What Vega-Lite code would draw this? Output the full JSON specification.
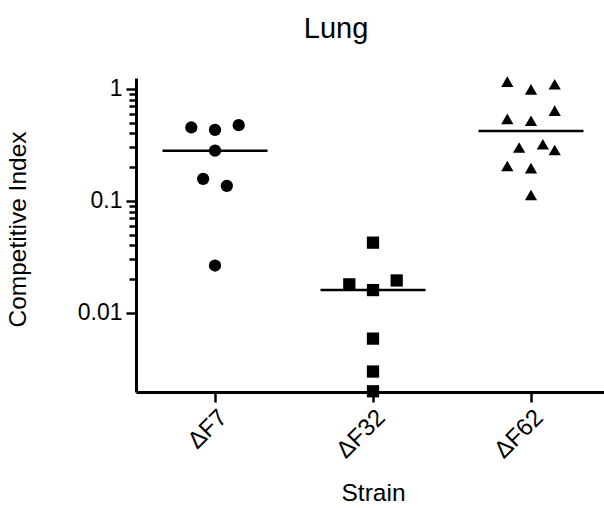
{
  "$schema": "https://vega.github.io/schema/vega-lite/v6.json",
  "width": 474,
  "height": 314,
  "autosize": "none",
  "padding": {"left": 136, "top": 78, "right": 0, "bottom": 116},
  "background": "white",
  "config": {
    "view": {"stroke": null},
    "font": "Liberation Sans",
    "axis": {"grid": false, "domainColor": "black", "tickColor": "black", "labelColor": "black", "titleColor": "black", "titleFontWeight": "normal"}
  },
  "title": {"text": "Lung", "fontSize": 29, "fontWeight": "normal", "color": "black", "dx": -37, "offset": 9, "baseline": "alphabetic"},
  "data": {
    "values": [
      {"strain": "ΔF7", "lane": -2, "value": 0.452},
      {"strain": "ΔF7", "lane": 0, "value": 0.43},
      {"strain": "ΔF7", "lane": 2, "value": 0.474},
      {"strain": "ΔF7", "lane": 0, "value": 0.281},
      {"strain": "ΔF7", "lane": -1, "value": 0.157},
      {"strain": "ΔF7", "lane": 1, "value": 0.136},
      {"strain": "ΔF7", "lane": 0, "value": 0.0265},
      {"strain": "ΔF32", "lane": 0, "value": 0.0424},
      {"strain": "ΔF32", "lane": -2, "value": 0.018},
      {"strain": "ΔF32", "lane": 2, "value": 0.0195},
      {"strain": "ΔF32", "lane": 0, "value": 0.016},
      {"strain": "ΔF32", "lane": 0, "value": 0.0059},
      {"strain": "ΔF32", "lane": 0, "value": 0.003},
      {"strain": "ΔF32", "lane": 0, "value": 0.002},
      {"strain": "ΔF62", "lane": -2, "value": 1.16},
      {"strain": "ΔF62", "lane": 0, "value": 0.99},
      {"strain": "ΔF62", "lane": 2, "value": 1.1},
      {"strain": "ΔF62", "lane": 2, "value": 0.64},
      {"strain": "ΔF62", "lane": -2, "value": 0.54},
      {"strain": "ΔF62", "lane": 0, "value": 0.52},
      {"strain": "ΔF62", "lane": -1, "value": 0.3},
      {"strain": "ΔF62", "lane": 1, "value": 0.32},
      {"strain": "ΔF62", "lane": 2, "value": 0.285},
      {"strain": "ΔF62", "lane": -2, "value": 0.205},
      {"strain": "ΔF62", "lane": 0, "value": 0.196},
      {"strain": "ΔF62", "lane": 0, "value": 0.113}
    ]
  },
  "resolve": {"axis": {"y": "independent"}},
  "layer": [
    {
      "mark": {"type": "tick", "color": "black", "thickness": 2.5, "size": 105, "opacity": 1},
      "encoding": {
        "x": {"field": "strain", "type": "nominal", "scale": {"type": "band", "domain": ["ΔF7", "ΔF32", "ΔF62"], "paddingInner": 0.7, "paddingOuter": 0.35}, "axis": {"title": "Strain", "titleFontSize": 24.5, "titleY": 108, "titleBaseline": "alphabetic", "labelAngle": -45, "labelFontSize": 24, "tickSize": 10, "tickWidth": 2.5, "domainWidth": 3, "labelPadding": 3, "labelDx": -6, "labelDy": -3}},
        "y": {"aggregate": "median", "field": "value", "type": "quantitative", "scale": {"type": "log", "domain": [0.00197, 1.25], "nice": false}, "axis": {"orient": "left", "values": [0.02, 0.03, 0.04, 0.05, 0.06, 0.07, 0.08, 0.09, 0.2, 0.3, 0.4, 0.5, 0.6, 0.7, 0.8, 0.9], "labels": false, "ticks": true, "tickSize": 7, "tickWidth": 2.5, "tickColor": "black", "domain": false, "title": null}}
      }
    },
    {
      "mark": {"type": "point", "filled": true, "color": "black", "opacity": 1},
      "encoding": {
        "x": {"field": "strain", "type": "nominal", "scale": {"type": "band", "domain": ["ΔF7", "ΔF32", "ΔF62"], "paddingInner": 0.7, "paddingOuter": 0.35}},
        "xOffset": {"field": "lane", "type": "nominal", "scale": {"domain": [-2, -1, 0, 1, 2], "paddingInner": 0, "paddingOuter": 0}},
        "y": {"field": "value", "type": "quantitative", "scale": {"type": "log", "domain": [0.00197, 1.25], "nice": false}, "axis": {"orient": "left", "values": [0.01, 0.1, 1], "format": "~g", "labelFontSize": 23, "tickSize": 10, "tickWidth": 2.5, "domainWidth": 3, "labelPadding": 4, "title": "Competitive Index", "titleFontSize": 24.5, "titleX": -106, "titleY": 151, "titleBaseline": "bottom"}},
        "shape": {"field": "strain", "type": "nominal", "scale": {"domain": ["ΔF7", "ΔF32", "ΔF62"], "range": ["circle", "square", "triangle-up"]}, "legend": null},
        "size": {"value": 150}
      }
    }
  ]
}
